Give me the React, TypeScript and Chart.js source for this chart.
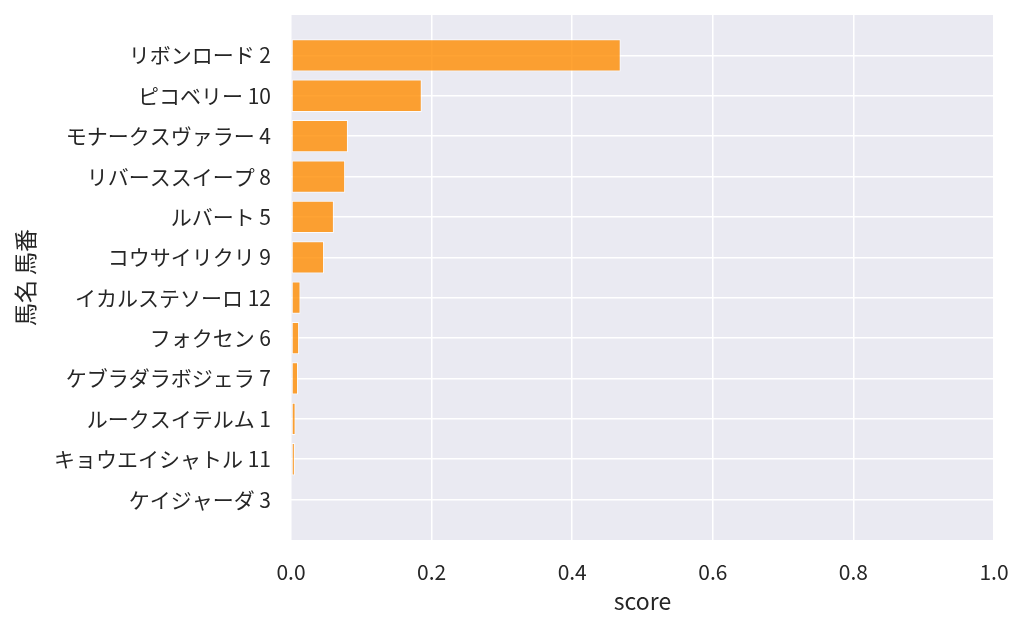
import { useEffect, useRef } from 'react';
import { Chart, registerables } from 'chart.js';

Chart.register(...registerables);

const horseNames = [
  'リボンロード 2',
  'ピコベリー 10',
  'モナークスヴァラー 4',
  'リバーススイープ 8',
  'ルバート 5',
  'コウサイリクリ 9',
  'イカルステソーロ 12',
  'フォクセン 6',
  'ケブラダラボジェラ 7',
  'ルークスイテルム 1',
  'キョウエイシャトル 11',
  'ケイジャーダ 3',
];

const scores = [0.469, 0.186, 0.081, 0.077, 0.061, 0.047, 0.0135, 0.0115, 0.01, 0.0065, 0.0055, 0.0012];

const xTicks = [0, 0.2, 0.4, 0.6, 0.8, 1.0];

const FONT = "'Noto Sans CJK JP', 'Noto Sans', sans-serif";
const TEXT = '#262626';

export default function App() {
  const canvasRef = useRef<HTMLCanvasElement>(null);
  const chartRef = useRef<Chart | null>(null);

  useEffect(() => {
    if (!canvasRef.current) return;
    if (chartRef.current) chartRef.current.destroy();

    const ctx = canvasRef.current.getContext('2d');
    if (!ctx) return;

    chartRef.current = new Chart(ctx, {
      type: 'bar',
      data: {
        datasets: [{
          data: scores.map((v, i) => ({ x: v, y: i })),
          backgroundColor: 'rgba(255, 140, 0, 0.8)',
          borderColor: 'rgba(255, 255, 255, 0.8)',
          borderWidth: 1,
          borderSkipped: false,
          barPercentage: 0.8,
          categoryPercentage: 1,
        }],
      },
      options: {
        indexAxis: 'y',
        animation: false,
        responsive: false,
        layout: { padding: { left: 0, right: 30, top: 15, bottom: 0 } },
        plugins: {
          legend: { display: false },
          tooltip: { enabled: false },
        },
        scales: {
          x: {
            type: 'linear',
            min: 0,
            max: 1,
            afterBuildTicks: (scale) => {
              scale.ticks = xTicks.map((v) => ({ value: v }));
            },
            afterFit: (scale: any) => {
              scale.height = 87;
              scale.paddingLeft = 0;
              scale.paddingRight = 0;
            },
            border: { display: false },
            grid: { color: '#ffffff', lineWidth: 1.5, drawTicks: false },
            ticks: {
              color: TEXT,
              padding: 19,
              font: { family: FONT, size: 21 },
              callback: (v) => Number(v).toFixed(1),
            },
            title: {
              display: true,
              text: 'score',
              color: TEXT,
              font: { family: FONT, size: 23 },
              padding: { top: 0, bottom: 12 },
            },
          },
          y: {
            type: 'linear',
            min: -1,
            max: 12,
            reverse: true,
            offset: false,
            afterBuildTicks: (scale) => {
              scale.ticks = horseNames.map((_, i) => ({ value: i }));
            },
            afterFit: (scale: any) => {
              scale.width = 291;
              scale.paddingTop = 0;
              scale.paddingBottom = 0;
            },
            border: { display: false },
            grid: { color: '#ffffff', lineWidth: 1.5, drawTicks: false, offset: false },
            ticks: {
              color: TEXT,
              padding: 20,
              font: { family: FONT, size: 21 },
              callback: (v) => horseNames[Number(v)] ?? '',
            },
            title: {
              display: true,
              text: '馬名 馬番',
              color: TEXT,
              font: { family: FONT, size: 23 },
              padding: { top: 11, bottom: 0 },
            },
          },
        },
      },
      plugins: [{
        id: 'plotBackground',
        beforeDraw: (chart) => {
          const { ctx: c, chartArea: a } = chart;
          c.save();
          c.fillStyle = '#eaeaf2';
          c.fillRect(a.left, a.top, a.right - a.left, a.bottom - a.top);
          c.restore();
        },
      }],
    });

    return () => {
      if (chartRef.current) {
        chartRef.current.destroy();
        chartRef.current = null;
      }
    };
  }, []);

  return (
    <div style={{ position: 'fixed', left: 0, top: 0, width: 1024, height: 627, background: '#ffffff' }}>
      <canvas ref={canvasRef} width={1024} height={627} style={{ width: 1024, height: 627 }} />
    </div>
  );
}
